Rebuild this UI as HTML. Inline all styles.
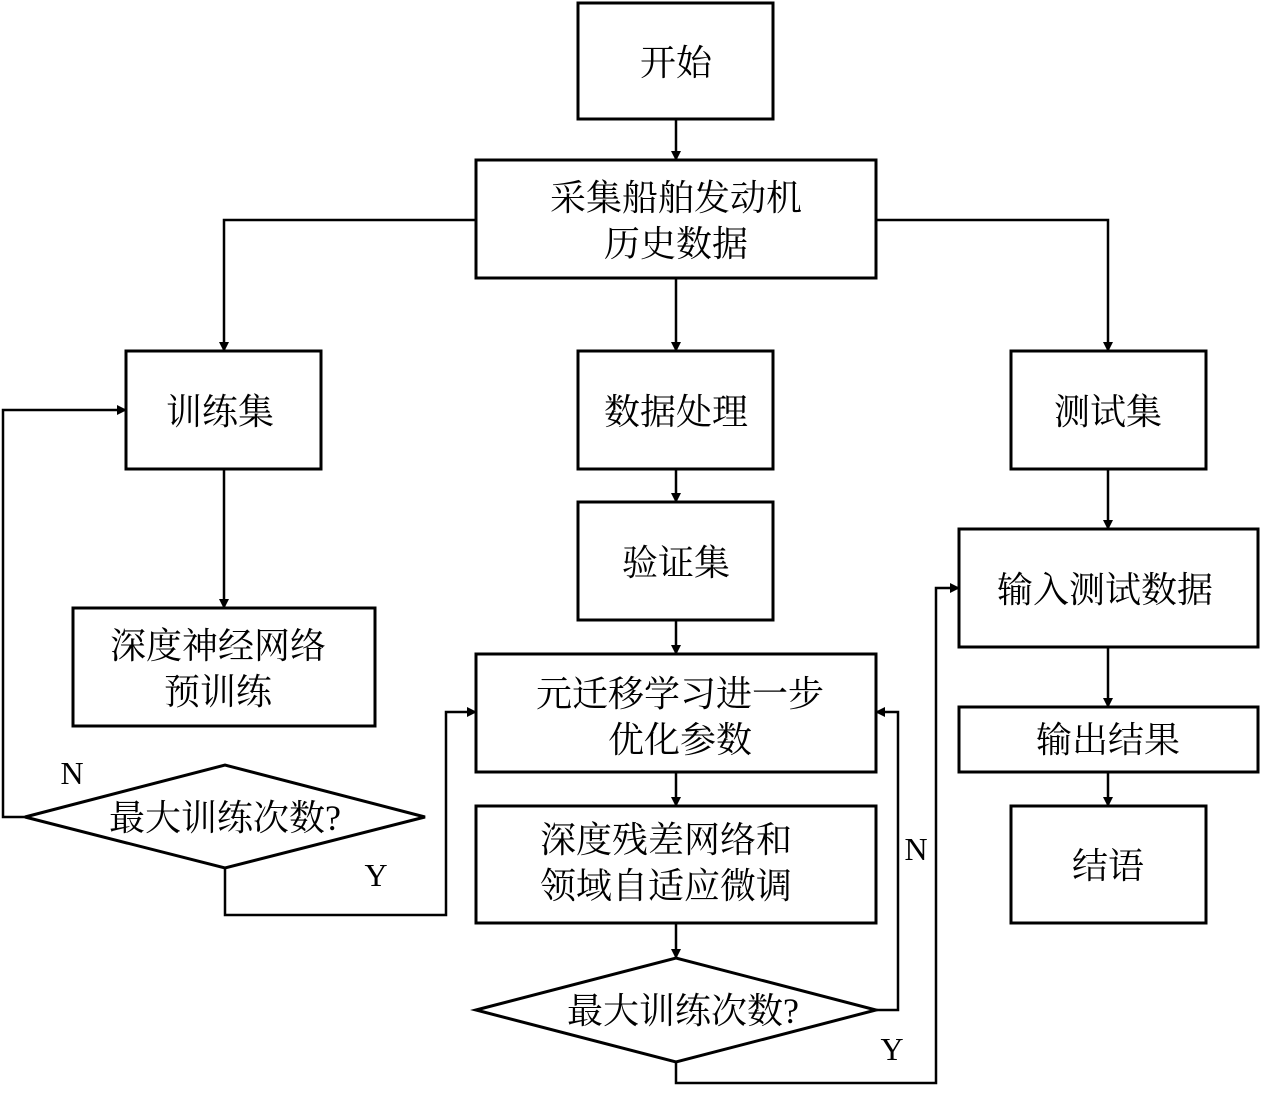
<!DOCTYPE html>
<html><head><meta charset="utf-8"><style>
html,body{margin:0;padding:0;background:#fff;}
svg text{font-family:"Liberation Serif","Noto Serif CJK SC",serif;font-size:36px;fill:#000;}
</style></head><body>
<svg width="1261" height="1089" viewBox="0 0 1261 1089" xmlns="http://www.w3.org/2000/svg">
<defs><marker id="a" markerWidth="10" markerHeight="10" refX="9" refY="5" orient="auto" markerUnits="userSpaceOnUse">
<path d="M0,0 L10,5 L0,10 z" fill="#000"/></marker></defs>
<g fill="none" stroke="#000" stroke-width="3">
<rect x="578" y="3" width="195" height="116"/>
<rect x="476" y="160" width="400" height="118"/>
<rect x="126" y="351" width="195" height="118"/>
<rect x="578" y="351" width="195" height="118"/>
<rect x="1011" y="351" width="195" height="118"/>
<rect x="578" y="502" width="195" height="118"/>
<rect x="73" y="608" width="302" height="118"/>
<rect x="476" y="654" width="400" height="118"/>
<rect x="959" y="529" width="299" height="118"/>
<rect x="959" y="707" width="299" height="65"/>
<rect x="476" y="806" width="400" height="117"/>
<rect x="1011" y="806" width="195" height="117"/>
<polygon points="25,817 225,765 425,817 225,868"/>
<polygon points="476,1010 676,958 876,1010 676,1062"/>
</g>
<g fill="none" stroke="#000" stroke-width="2.5" marker-end="url(#a)">
<path d="M676,119 V160"/>
<path d="M476,220 H224 V351"/>
<path d="M876,220 H1108 V351"/>
<path d="M676,278 V351"/>
<path d="M224,469 V608"/>
<path d="M676,469 V502"/>
<path d="M676,620 V654"/>
<path d="M1108,469 V529"/>
<path d="M1108,647 V707"/>
<path d="M1108,772 V806"/>
<path d="M25,817 H3 V410 H126"/>
<path d="M225,868 V915 H446 V712 H476"/>
<path d="M676,772 V806"/>
<path d="M676,923 V958"/>
<path d="M876,1010 H898 V712 H876"/>
<path d="M676,1062 V1083 H936 V588 H959"/>
</g>
<g text-anchor="middle">
<text x="676" y="75">开始</text>
<text x="676" y="210">采集船舶发动机</text>
<text x="676" y="256">历史数据</text>
<text x="220" y="424">训练集</text>
<text x="676" y="424">数据处理</text>
<text x="1108" y="424">测试集</text>
<text x="676" y="575">验证集</text>
<text x="218" y="658">深度神经网络</text>
<text x="218" y="704">预训练</text>
<text x="680" y="706">元迁移学习进一步</text>
<text x="680" y="752">优化参数</text>
<text x="1105" y="602">输入测试数据</text>
<text x="1108" y="752">输出结果</text>
<text x="666" y="852">深度残差网络和</text>
<text x="666" y="898">领域自适应微调</text>
<text x="1108" y="878">结语</text>
<text x="225" y="830">最大训练次数?</text>
<text x="683" y="1023">最大训练次数?</text>
<text x="72" y="784" style="font-size:32px">N</text>
<text x="376" y="886" style="font-size:32px">Y</text>
<text x="916" y="860" style="font-size:32px">N</text>
<text x="892" y="1060" style="font-size:32px">Y</text>
</g>
</svg>
</body></html>
